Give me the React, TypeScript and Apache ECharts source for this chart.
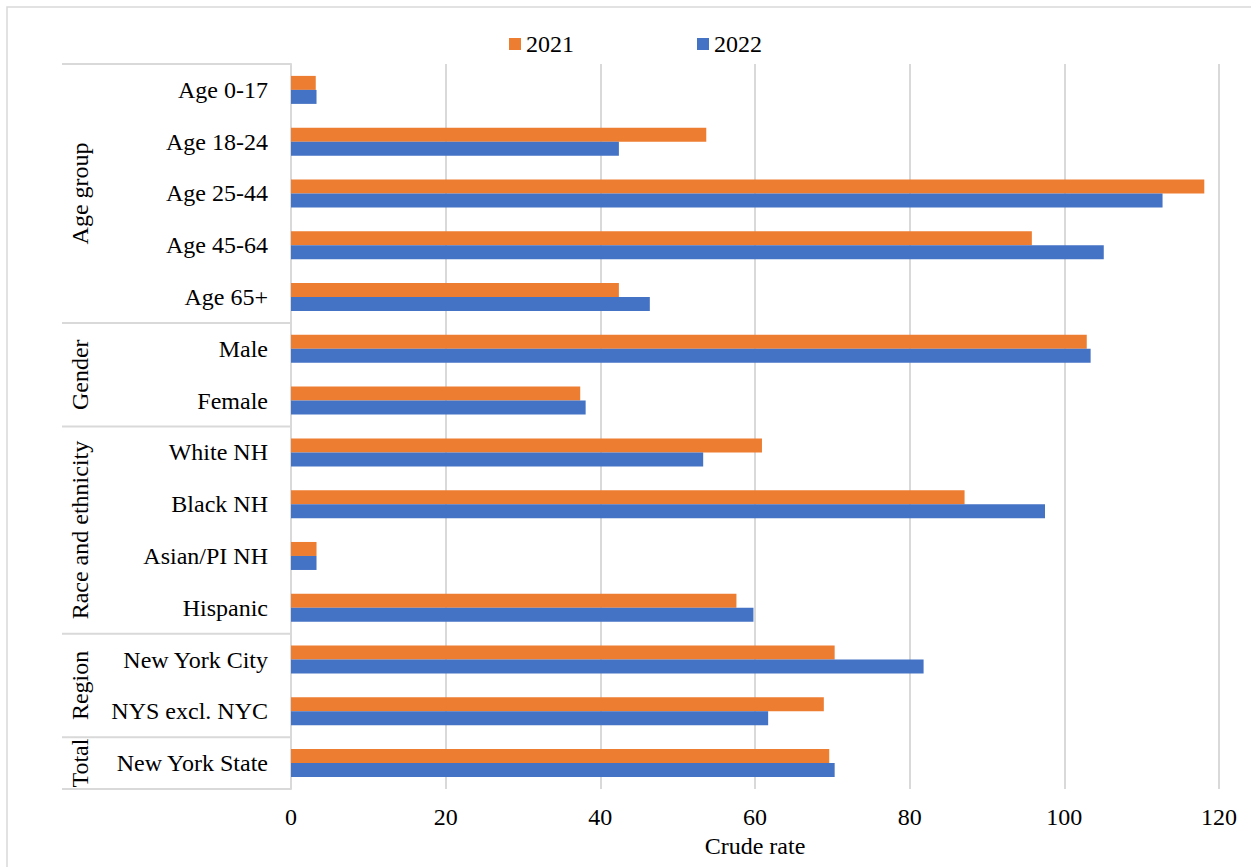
import { useEffect, useRef } from "react";
import * as echarts from "echarts";

// Crude rate by demographic group, 2021 vs 2022
const categories = [
  "Age 0-17",
  "Age 18-24",
  "Age 25-44",
  "Age 45-64",
  "Age 65+",
  "Male",
  "Female",
  "White NH",
  "Black NH",
  "Asian/PI NH",
  "Hispanic",
  "New York City",
  "NYS excl. NYC",
  "New York State",
];

const rate2021 = [3.2, 53.7, 118.1, 95.8, 42.4, 102.9, 37.4, 60.9, 87.1, 3.3, 57.6, 70.3, 68.9, 69.6];
const rate2022 = [3.3, 42.4, 112.7, 105.1, 46.4, 103.4, 38.1, 53.3, 97.5, 3.3, 59.8, 81.8, 61.7, 70.3];

const groupNames = ["Age group", "Gender", "Race and ethnicity", "Region", "Total"];
const groupSizes = [5, 2, 4, 2, 1];

const xMin = 0;
const xMax = 120;
const xStep = 20;

const W = 1251;
const H = 867;
const GRID = { left: 291, right: 32, top: 64, bottom: 78 };
const FONT = "Liberation Serif";
const FS = 24;
const GRAY = "#d9d9d9";
const ORANGE = "#ED7D31";
const BLUE = "#4472C4";

function buildGroupGraphics() {
  const plotTop = GRID.top;
  const plotBottom = H - GRID.bottom;
  const band = (plotBottom - plotTop) / categories.length;
  const lineLeft = 62;
  const lineRight = GRID.left;
  const elements: any[] = [];
  let start = 0;
  const boundary = (i: number) => plotTop + i * band;
  elements.push({
    type: "line",
    shape: { x1: lineLeft, y1: boundary(0), x2: lineRight, y2: boundary(0) },
    style: { stroke: GRAY, lineWidth: 2 },
  });
  groupNames.forEach((name, gi) => {
    const end = start + groupSizes[gi];
    elements.push({
      type: "line",
      shape: { x1: lineLeft, y1: boundary(end), x2: lineRight, y2: boundary(end) },
      style: { stroke: GRAY, lineWidth: 2 },
    });
    elements.push({
      type: "text",
      x: 80,
      y: (boundary(start) + boundary(end)) / 2,
      rotation: Math.PI / 2,
      style: {
        text: name,
        fontFamily: FONT,
        fontSize: FS,
        fill: "#000",
        textAlign: "center",
        textVerticalAlign: "middle",
      },
    });
    start = end;
  });
  // outer frame
  elements.push({
    type: "rect",
    shape: { x: 7, y: 7, width: W + 20, height: H + 20 },
    style: { fill: "none", stroke: GRAY, lineWidth: 1.5 },
    z: -1,
  });
  return elements;
}

export default function App() {
  const ref = useRef<HTMLDivElement>(null);

  useEffect(() => {
    if (!ref.current) return;
    const chart = echarts.init(ref.current, undefined, { renderer: "svg" });
    chart.setOption({
      animation: false,
      backgroundColor: "#fff",
      textStyle: { fontFamily: FONT, color: "#000" },
      legend: {
        left: 504,
        top: 27,
        itemWidth: 12,
        itemHeight: 12,
        itemGap: 123,
        icon: "rect",
        textStyle: { fontFamily: FONT, fontSize: FS, color: "#000" },
        data: ["2021", "2022"],
      },
      grid: { ...GRID, containLabel: false },
      xAxis: {
        type: "value",
        min: xMin,
        max: xMax,
        interval: xStep,
        axisLine: { show: false },
        axisTick: { show: false },
        splitLine: { show: true, lineStyle: { color: GRAY, width: 2 } },
        axisLabel: { fontFamily: FONT, fontSize: FS, color: "#000", margin: 16 },
        name: "Crude rate",
        nameLocation: "middle",
        nameGap: 44,
        nameTextStyle: { fontFamily: FONT, fontSize: FS, color: "#000" },
      },
      yAxis: {
        type: "category",
        data: categories,
        inverse: true,
        axisLine: { show: true, lineStyle: { color: GRAY, width: 2 } },
        axisTick: { show: false },
        axisLabel: { fontFamily: FONT, fontSize: FS, color: "#000", margin: 23 },
      },
      series: [
        {
          name: "2021",
          type: "bar",
          data: rate2021,
          barWidth: 14,
          barGap: "0%",
          itemStyle: { color: ORANGE },
        },
        {
          name: "2022",
          type: "bar",
          data: rate2022,
          barWidth: 14,
          barGap: "0%",
          itemStyle: { color: BLUE },
        },
      ],
      graphic: buildGroupGraphics(),
    });
    return () => chart.dispose();
  }, []);

  return (
    <div
      ref={ref}
      style={{ position: "fixed", left: 0, top: 0, width: W, height: H }}
    />
  );
}
